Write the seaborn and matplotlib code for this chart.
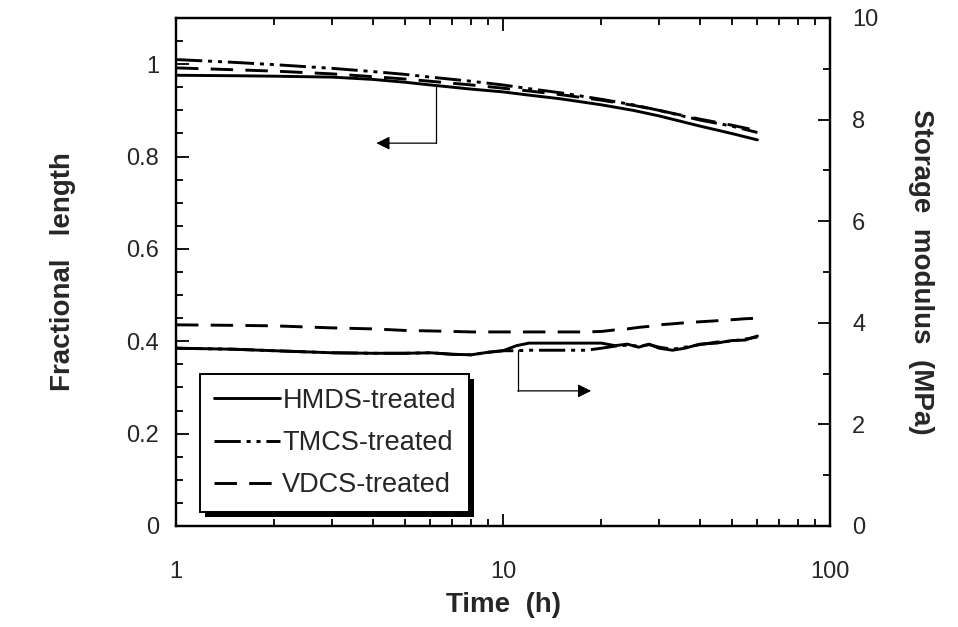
import numpy as np
import pandas as pd
import matplotlib
matplotlib.use("Agg")
import matplotlib.pyplot as plt
from matplotlib.ticker import MultipleLocator, FixedLocator, NullFormatter, LogLocator
from matplotlib.patches import Rectangle
from matplotlib.transforms import IdentityTransform
import seaborn as sns

# ---------------- data ----------------
series_names = ["HMDS-treated", "TMCS-treated", "VDCS-treated"]

# fractional length (left axis)
t_len = [1, 1.5, 2, 3, 4, 5, 6, 8, 10, 12, 15, 20, 25, 30, 40, 50, 60]
len_hmds = [0.976, 0.975, 0.974, 0.972, 0.967, 0.961, 0.955, 0.946, 0.940, 0.933,
            0.925, 0.912, 0.900, 0.888, 0.866, 0.850, 0.836]
len_tmcs = [1.010, 1.004, 0.999, 0.991, 0.984, 0.978, 0.972, 0.963, 0.955, 0.947,
            0.938, 0.924, 0.912, 0.900, 0.879, 0.866, 0.852]
len_vdcs = [0.992, 0.988, 0.985, 0.979, 0.973, 0.968, 0.963, 0.955, 0.948, 0.942,
            0.934, 0.922, 0.911, 0.900, 0.881, 0.868, 0.856]

# storage modulus (right axis, MPa)
t_mod = [1, 1.5, 2, 3, 4, 5, 6, 7, 8, 9, 10, 11, 12, 15, 18, 20, 22, 24, 26, 28,
         30, 33, 36, 40, 45, 50, 55, 60]
mod_hmds = [3.50, 3.48, 3.45, 3.41, 3.40, 3.40, 3.41, 3.38, 3.37, 3.42, 3.45, 3.55,
            3.60, 3.60, 3.60, 3.60, 3.55, 3.58, 3.52, 3.58, 3.50, 3.46, 3.50, 3.58,
            3.60, 3.65, 3.66, 3.74]
mod_tmcs = [3.50, 3.48, 3.45, 3.41, 3.40, 3.40, 3.41, 3.38, 3.37, 3.42, 3.45, 3.45,
            3.46, 3.46, 3.46, 3.50, 3.54, 3.56, 3.54, 3.57, 3.52, 3.48, 3.52, 3.57,
            3.62, 3.64, 3.68, 3.72]
mod_vdcs = [3.96, 3.95, 3.94, 3.90, 3.88, 3.85, 3.84, 3.83, 3.82, 3.82, 3.82, 3.82,
            3.82, 3.82, 3.82, 3.83, 3.86, 3.88, 3.91, 3.93, 3.96, 3.98, 4.00, 4.02,
            4.04, 4.06, 4.08, 4.09]

x_ticks = [1, 10, 100]
x_tick_labels = ["1", "10", "100"]
left_ticks = [0, 0.2, 0.4, 0.6, 0.8, 1.0]
left_tick_labels = ["0", "0.2", "0.4", "0.6", "0.8", "1"]
right_ticks = [0, 2, 4, 6, 8, 10]
right_tick_labels = ["0", "2", "4", "6", "8", "10"]

# annotation arrows (data coordinates)
arrow_left = dict(x_line=6.24, y_top=0.955, y_corner=0.829, x_tip=4.1)
arrow_right = dict(x_line=11.1, y_top=3.46, y_corner=2.66, x_tip=18.6)

# ---------------- style ----------------
sns.set_theme(style="ticks")
plt.rcParams["font.family"] = ["Liberation Sans", "DejaVu Sans"]
plt.rcParams["axes.linewidth"] = 1.6

lw = 2.1
styles = {
    "HMDS-treated": "-",
    "TMCS-treated": (0, (9, 2.0, 1.4, 2.0, 1.4, 2.0)),
    "VDCS-treated": (0, (7.7, 4.2)),
}

fig = plt.figure(figsize=(9.58, 6.27), dpi=100)
ax = fig.add_axes([176 / 958, 1 - 526 / 627, (830 - 176) / 958, (526 - 18) / 627])
ax2 = ax.twinx()

len_data = {"HMDS-treated": len_hmds, "TMCS-treated": len_tmcs, "VDCS-treated": len_vdcs}
mod_data = {"HMDS-treated": mod_hmds, "TMCS-treated": mod_tmcs, "VDCS-treated": mod_vdcs}

handles = []
for name in series_names:
    df = pd.DataFrame({"t": t_len, "v": len_data[name]})
    sns.lineplot(data=df, x="t", y="v", ax=ax, color="black", lw=lw,
                 linestyle=styles[name], estimator=None, legend=False)
    handles.append(ax.lines[-1])
for name in series_names:
    df = pd.DataFrame({"t": t_mod, "v": mod_data[name]})
    sns.lineplot(data=df, x="t", y="v", ax=ax2, color="black", lw=lw,
                 linestyle=styles[name], estimator=None, legend=False)

ax.set_xscale("log")
ax.set_xlim(1, 100)
ax.set_ylim(0, 1.1)
ax2.set_ylim(0, 10)

ax.xaxis.set_major_locator(FixedLocator(x_ticks))
ax.set_xticklabels(x_tick_labels)
ax.xaxis.set_minor_locator(LogLocator(base=10, subs=np.arange(2, 10)))
ax.xaxis.set_minor_formatter(NullFormatter())
ax.set_yticks(left_ticks)
ax.set_yticklabels(left_tick_labels)
ax.yaxis.set_minor_locator(MultipleLocator(0.05))
ax2.set_yticks(right_ticks)
ax2.set_yticklabels(right_tick_labels)
ax2.yaxis.set_minor_locator(MultipleLocator(1))

ax.tick_params(which="both", direction="in", top=True, right=False, color="black",
               labelsize=17, width=1.3)
ax.tick_params(which="major", length=9)
ax.tick_params(which="minor", length=5)
ax.tick_params(axis="y", pad=12)
ax.tick_params(axis="x", pad=25)
ax2.tick_params(which="both", direction="in", labelsize=17, width=1.3, color="black", pad=16)
ax2.tick_params(which="major", length=9)
ax2.tick_params(which="minor", length=5)
for a in (ax, ax2):
    for s in a.spines.values():
        s.set_color("black")
        s.set_linewidth(1.6)

ax.set_xlabel("Time  (h)", fontsize=20, fontweight="bold", labelpad=7)
ax.set_ylabel("Fractional   length", fontsize=20, fontweight="bold", labelpad=36)
ax2.set_ylabel("Storage  modulus  (MPa)", fontsize=20, fontweight="bold",
               rotation=-90, labelpad=40)

# arrows
ax.plot([arrow_left["x_line"], arrow_left["x_line"]],
        [arrow_left["y_top"], arrow_left["y_corner"]], color="black", lw=0.9)
ax.annotate("", xy=(arrow_left["x_tip"], arrow_left["y_corner"]),
            xytext=(arrow_left["x_line"], arrow_left["y_corner"]),
            arrowprops=dict(arrowstyle="-|>", color="black", lw=0.9,
                            mutation_scale=20, shrinkA=0, shrinkB=0))
ax2.plot([arrow_right["x_line"], arrow_right["x_line"]],
         [arrow_right["y_top"], arrow_right["y_corner"]], color="black", lw=0.9)
ax2.annotate("", xy=(arrow_right["x_tip"], arrow_right["y_corner"]),
             xytext=(arrow_right["x_line"], arrow_right["y_corner"]),
             arrowprops=dict(arrowstyle="-|>", color="black", lw=0.9,
                             mutation_scale=20, shrinkA=0, shrinkB=0))

leg = ax2.legend(handles, series_names, loc="lower left",
                 bbox_to_anchor=(0.037, 0.028), fontsize=19.5, frameon=True,
                 fancybox=False, shadow=False,
                 edgecolor="black", framealpha=1, handlelength=2.45,
                 handletextpad=0.08, labelspacing=0.6, borderpad=0.5,
                 borderaxespad=0)
leg.get_frame().set_linewidth(1.4)
leg.set_zorder(10)

# black drop shadow under the legend box
fig.canvas.draw()
bb = leg.get_frame().get_window_extent(fig.canvas.get_renderer())
shadow = Rectangle((bb.x0 + 5, bb.y0 - 5), bb.width, bb.height, transform=IdentityTransform(),
                   facecolor="black", edgecolor="none", zorder=9, clip_on=False)
ax2.add_patch(shadow)

fig.savefig("out.png", dpi=100)
